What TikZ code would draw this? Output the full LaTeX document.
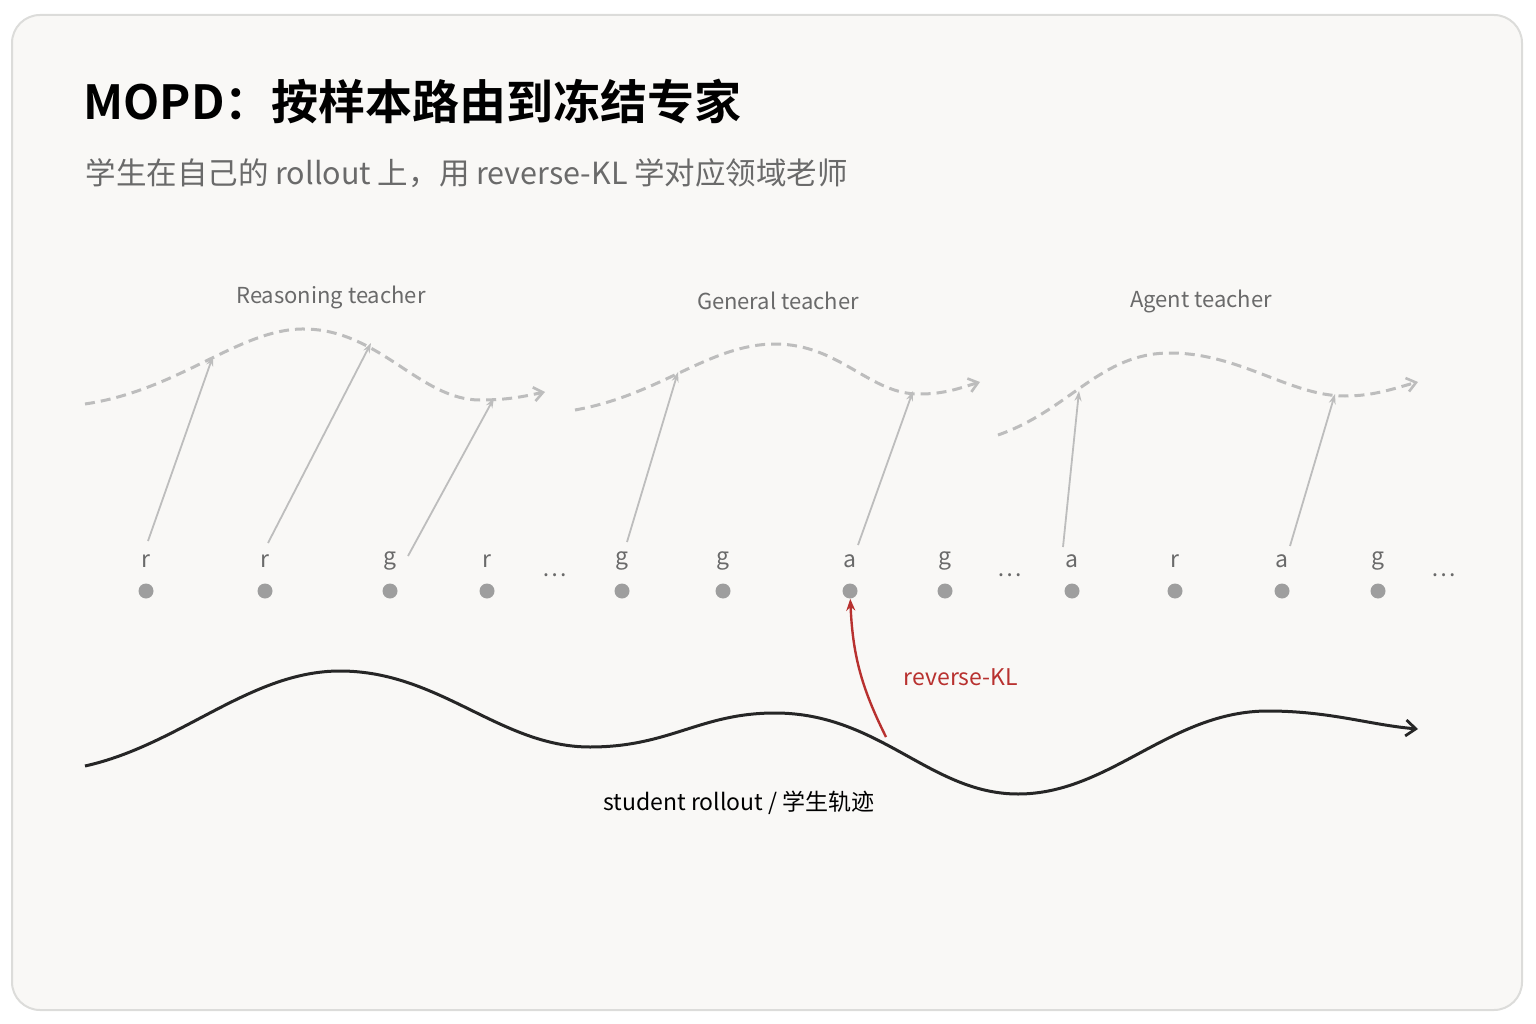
\documentclass[tikz,border=0pt]{standalone}
\usepackage{fontspec}
\setmainfont{Noto Sans CJK SC}
\newfontfamily\boldcjk{Noto Sans CJK SC Bold}
\usetikzlibrary{arrows.meta}
\definecolor{bg}{HTML}{F9F8F6}
\definecolor{frame}{HTML}{DCDCDA}
\definecolor{txtgray}{HTML}{6A6A6A}
\definecolor{linegray}{HTML}{BDBDBD}
\definecolor{dotgray}{HTML}{9E9E9E}
\definecolor{kred}{HTML}{B8312F}
\begin{document}
\begin{tikzpicture}[x=1pt,y=-1pt,
  tlabel/.style={text=txtgray,font=\fontsize{22}{22}\selectfont},
  tok/.style={text=txtgray,font=\fontsize{23}{23}\selectfont},
  dot/.style={circle,fill=dotgray,minimum size=15pt,inner sep=0pt},
  tcurve/.style={draw=linegray,line width=3pt,dash pattern=on 10pt off 6pt,-{Straight Barb[length=9pt,width=14pt,line width=2.6pt]}},
  query/.style={draw=linegray,line width=1.8pt,-{Stealth[length=10pt,width=7pt]}}]
\useasboundingbox (0,0) rectangle (1536,1024);
\draw[frame,fill=bg,line width=2pt,rounded corners=28pt] (12,15) rectangle (1522,1010);
\node[anchor=west,font=\boldcjk\fontsize{47}{47}\selectfont] (title) at (80,102) {MOPD：按样本路由到冻结专家};
\node[anchor=west,text=txtgray,font=\fontsize{30.5}{30.5}\selectfont] (sub) at (82,173) {学生在自己的 rollout 上，用 reverse-KL 学对应领域老师};
\node[tlabel] (tr) at (331,297) {Reasoning teacher};
\node[tlabel] (tg) at (778,301) {General teacher};
\node[tlabel] (ta) at (1201,301) {Agent teacher};
\draw[tcurve] (85,404) .. controls (180,390) and (240,328) .. (305,329) .. controls (380,330) and (420,400) .. (480,400) .. controls (510,400) and (525,396) .. (545,392);
\draw[tcurve] (575,410) .. controls (660,395) and (710,344) .. (775,344) .. controls (840,344) and (870,395) .. (920,394) .. controls (945,394) and (960,388) .. (980,382);
\draw[tcurve] (998,435) .. controls (1070,410) and (1100,353) .. (1170,353) .. controls (1240,353) and (1290,396) .. (1345,396) .. controls (1375,396) and (1395,388) .. (1418,382);
\foreach \n/\x/\c in {1/146/r,2/265/r,3/390/g,4/487/r,5/622/g,6/723/g,7/850/a,8/945/g,9/1072/a,10/1175/r,11/1282/a,12/1378/g}{
  \node[tok] (l\n) at (\x,561) {\c};
  \node[dot] (d\n) at (\x,591) {};
}
\foreach \x in {555,1010,1444}{\node[tok] at (\x,575) {\dots};}
\coordinate (q1) at (213,356); \coordinate (q2) at (371,343); \coordinate (q3) at (494,398);
\coordinate (q5) at (678,372); \coordinate (q7) at (913,391); \coordinate (q9) at (1079,391); \coordinate (q11) at (1335,394);
\draw[query] (148,541) -- (q1);
\draw[query] (268,543) -- (q2);
\draw[query] (408,556) -- (q3);
\draw[query] (627,542) -- (q5);
\draw[query] (858,545) -- (q7);
\draw[query] (1063,547) -- (q9);
\draw[query] (1290,546) -- (q11);
\draw[line width=3pt,draw=black!85,-{Straight Barb[length=10pt,width=16pt,line width=2.8pt]}] (85,766) .. controls (180,745) and (250,671) .. (340,671) .. controls (440,671) and (500,747) .. (590,747) .. controls (670,747) and (700,713) .. (775,713) .. controls (880,713) and (930,794) .. (1018,794) .. controls (1110,794) and (1170,711) .. (1268,711) .. controls (1330,711) and (1370,725) .. (1418,729);
\coordinate (kl) at (886,737);
\draw[kred,line width=2.4pt,-{Stealth[length=12pt,width=9pt]}] (kl) to[bend left=12] (d7);
\node[text=kred,font=\fontsize{23}{23}\selectfont] (klt) at (961,677) {reverse-KL};
\node[font=\fontsize{23}{23}\selectfont] (sr) at (739,803) {student rollout / 学生轨迹};
\end{tikzpicture}
\end{document}
